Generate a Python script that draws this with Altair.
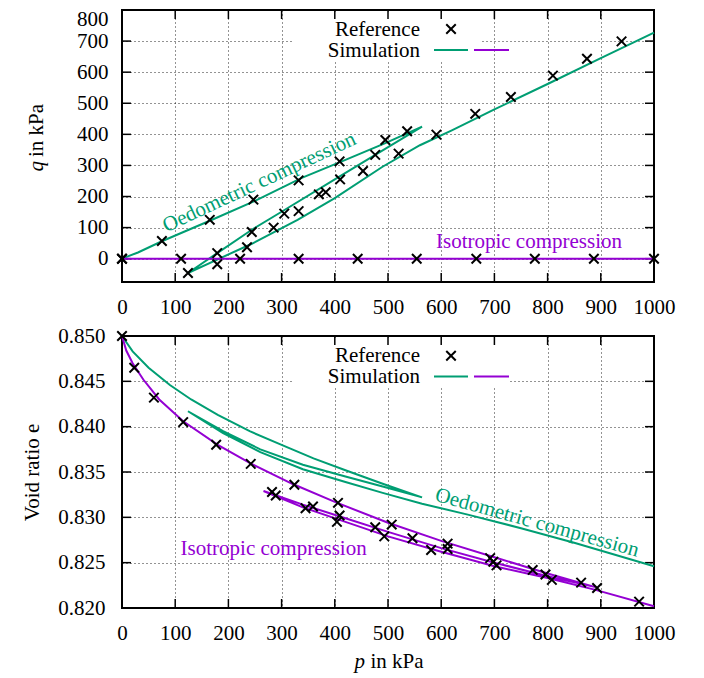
import altair as alt
import pandas as pd

GREEN = "#009e73"
PURPLE = "#9400d3"
FONT = "Liberation Serif"
FS = 21
W, H = 532, 272
TICK = 9
XSHAPE = "M-1,-1L1,1M-1,1L1,-1"

X_TICKS = [0, 100, 200, 300, 400, 500, 600, 700, 800, 900, 1000]
Q_TICKS = [0, 100, 200, 300, 400, 500, 600, 700, 800]
E_TICKS = [0.820, 0.825, 0.830, 0.835, 0.840, 0.845, 0.850]

# ---------------- top panel (p-q) ----------------
top_iso_ref_p = [0, 111, 222, 332, 443, 554, 666, 776, 887, 1000]
top_iso_ref_q = [0, 0, 0, 0, 0, 0, 0, 0, 0, 0]

top_oed_ref_p = [0, 75, 165, 247, 332, 409, 495, 536, 520, 453, 383, 332, 285, 235, 179, 124,
                 179, 244, 305, 370, 410, 476, 591, 664, 731, 810, 874, 939]
top_oed_ref_q = [0, 57, 125, 190, 252, 313, 382, 410, 338, 282, 214, 153, 100, 37, -18, -46,
                 18, 86, 145, 207, 255, 334, 399, 466, 520, 589, 643, 699]

top_oed_sim_p = [0, 30, 75, 165, 250, 338, 420, 495, 564, 476, 400, 300, 244, 179, 124,
                 180, 244, 330, 400, 489, 560, 620, 700, 800, 900, 1000]
top_oed_sim_q = [0, 20, 56, 122, 186, 260, 318, 372, 425, 334, 255, 151, 93, 18, -46,
                 -2, 48, 125, 195, 295, 365, 413, 480, 562, 645, 727]

top_iso_sim_p = [0, 890, 266, 1000]
top_iso_sim_q = [0, 0, 0, 0]

# ---------------- bottom panel (p-e) ----------------
bot_ref_p = [0, 23, 60, 115, 177, 242, 324, 282, 289, 345, 359, 406, 409, 404, 476, 493, 507,
             546, 581, 612, 612, 692, 698, 704, 772, 796, 808, 863, 893, 972]
bot_ref_e = [0.8500, 0.8465, 0.8432, 0.8405, 0.8380, 0.8359, 0.8336, 0.8328, 0.8324, 0.8310,
             0.8312, 0.8316, 0.8302, 0.8295, 0.8289, 0.8279, 0.8292, 0.8277, 0.8264, 0.8271,
             0.8265, 0.8255, 0.8251, 0.8247, 0.8242, 0.8237, 0.8231, 0.8228, 0.8222, 0.8207]

bot_oed_sim_p = [0, 20, 50, 90, 130, 180, 240, 300, 360, 420, 490, 564,
                 490, 420, 340, 260, 190, 124,
                 190, 260, 340, 420, 490, 564, 650, 750, 850, 1000]
bot_oed_sim_e = [0.8500, 0.8483, 0.8465, 0.8446, 0.8430, 0.8413, 0.8395, 0.8380, 0.8365, 0.8352, 0.8337, 0.8322,
                 0.8334, 0.8345, 0.8358, 0.8375, 0.8395, 0.8417,
                 0.8393, 0.8372, 0.8353, 0.8339, 0.8327, 0.8315, 0.8303, 0.8288, 0.8272, 0.8246]

bot_iso_sim_p = [0, 8, 20, 40, 70, 115, 180, 240, 320, 400, 500, 600, 700, 800, 890,
                 800, 700, 600, 500, 420, 340, 266,
                 340, 420, 500, 600, 700, 800, 890, 1000]
bot_iso_sim_e = [0.8500, 0.8484, 0.8470, 0.8452, 0.8430, 0.8406, 0.8380, 0.8360, 0.8337, 0.8317,
                 0.8294, 0.8274, 0.8256, 0.8238, 0.8223,
                 0.8235, 0.8250, 0.8266, 0.8284, 0.8299, 0.8314, 0.8329,
                 0.8311, 0.8295, 0.8279, 0.8262, 0.8246, 0.8233, 0.8220, 0.8202]

# annotations
top_ann_text = ["Oedometric compression", "Isotropic compression"]
top_ann_p = [258, 765]
top_ann_q = [245, 54]
top_ann_angle = [335, 0]
top_ann_color = [GREEN, PURPLE]

bot_ann_text = ["Oedometric compression", "Isotropic compression"]
bot_ann_p = [780, 285]
bot_ann_e = [0.8294, 0.82654]
bot_ann_angle = [15.5, 0]
bot_ann_color = [GREEN, PURPLE]

XS = alt.Scale(domain=[0, 1000], nice=False, zero=False)
QS = alt.Scale(domain=[-75, 800], nice=False, zero=False)
ES = alt.Scale(domain=[0.82, 0.85], nice=False, zero=False)

one = pd.DataFrame({"a": [0]})


def path_df(xs, ys, yname):
    return pd.DataFrame({"p": xs, yname: ys, "i": list(range(len(xs)))})


def panel(yname, yscale, xaxis, yaxis, yticks, refs, sims, anns, box_x2, legend_y, extra):
    X = lambda: alt.X("p:Q", scale=XS, axis=xaxis)
    Y = lambda: alt.Y(f"{yname}:Q", scale=yscale, axis=yaxis)
    layers = []
    xt = pd.DataFrame({"p": X_TICKS})
    yt = pd.DataFrame({yname: yticks})
    layers.append(alt.Chart(xt).mark_rule(color="black", strokeWidth=1.5).encode(
        x=X(), y=alt.value(H), y2=alt.value(H - TICK)))
    layers.append(alt.Chart(yt).mark_rule(color="black", strokeWidth=1.5).encode(
        y=Y(), x=alt.value(0), x2=alt.value(TICK)))
    layers.append(alt.Chart(one).mark_rect(color="white").encode(
        x=alt.value(172), x2=alt.value(box_x2), y=alt.value(2), y2=alt.value(52)))
    layers.append(alt.Chart(xt).mark_rule(color="black", strokeWidth=1.5).encode(
        x=X(), y=alt.value(0), y2=alt.value(TICK)))
    layers.append(alt.Chart(yt).mark_rule(color="black", strokeWidth=1.5).encode(
        y=Y(), x=alt.value(W), x2=alt.value(W - TICK)))
    for df, color in sims:
        layers.append(alt.Chart(df).mark_line(color=color, strokeWidth=2).encode(
            x=X(), y=Y(), order="i:Q"))
    for df in refs:
        layers.append(alt.Chart(df).mark_point(shape=XSHAPE, size=90, strokeWidth=2,
                                                color="black", filled=False, opacity=1).encode(
            x=X(), y=Y()))
    for t, p, v, ang, col in anns:
        d = pd.DataFrame({"p": [p], yname: [v], "t": [t]})
        layers.append(alt.Chart(d).mark_text(font=FONT, fontSize=FS, color=col, angle=ang,
                                              align="center", baseline="middle").encode(
            x=X(), y=Y(), text="t:N"))
    ry, sy, my, ly = legend_y
    layers.append(alt.Chart(one).mark_text(font=FONT, fontSize=FS, color="black", align="right",
                                            baseline="alphabetic").encode(
        x=alt.value(298), y=alt.value(ry), text=alt.value("Reference")))
    layers.append(alt.Chart(one).mark_text(font=FONT, fontSize=FS, color="black", align="right",
                                            baseline="alphabetic").encode(
        x=alt.value(298), y=alt.value(sy), text=alt.value("Simulation")))
    layers.append(alt.Chart(one).mark_point(shape=XSHAPE, size=90, strokeWidth=2, color="black",
                                             filled=False, opacity=1).encode(
        x=alt.value(329), y=alt.value(my)))
    layers.append(alt.Chart(one).mark_rule(color=GREEN, strokeWidth=2).encode(
        x=alt.value(312), x2=alt.value(346), y=alt.value(ly)))
    layers.append(alt.Chart(one).mark_rule(color=PURPLE, strokeWidth=2).encode(
        x=alt.value(352), x2=alt.value(387), y=alt.value(ly)))
    layers.extend(extra)
    return alt.layer(*layers).properties(width=W, height=H)


xaxis = alt.Axis(values=X_TICKS, title=None, format="d", labelFlush=False, labelOverlap=False,
                 labelPadding=14)
qaxis = alt.Axis(values=Q_TICKS, title=None, labelPadding=14,
                 labelOffset={"condition": {"test": "datum.value == 800", "value": 9}, "value": 0})
eaxis = alt.Axis(values=E_TICKS, format=".3f", title="Void ratio e", labelPadding=17,
                 titleX=-90, titleY=136, titleAngle=270, titleBaseline="middle",
                 titleAlign="center")

top_title = [
    alt.Chart(one).mark_text(font=FONT, fontSize=FS, fontStyle="italic", color="black", angle=270,
                             align="right", baseline="middle").encode(
        x=alt.value(-85), y=alt.value(151), text=alt.value("q")),
    alt.Chart(one).mark_text(font=FONT, fontSize=FS, color="black", angle=270,
                             align="left", baseline="middle").encode(
        x=alt.value(-85), y=alt.value(147), text=alt.value("in kPa")),
]
bot_title = [
    alt.Chart(one).mark_text(font=FONT, fontSize=FS, fontStyle="italic", color="black",
                             align="right", baseline="middle").encode(
        x=alt.value(243), y=alt.value(326), text=alt.value("p")),
    alt.Chart(one).mark_text(font=FONT, fontSize=FS, color="black",
                             align="left", baseline="middle").encode(
        x=alt.value(248.5), y=alt.value(326), text=alt.value("in kPa")),
]

top = panel(
    "q", QS, xaxis, qaxis, Q_TICKS,
    [path_df(top_iso_ref_p, top_iso_ref_q, "q"), path_df(top_oed_ref_p, top_oed_ref_q, "q")],
    [(path_df(top_oed_sim_p, top_oed_sim_q, "q"), GREEN), (path_df(top_iso_sim_p, top_iso_sim_q, "q"), PURPLE)],
    list(zip(top_ann_text, top_ann_p, top_ann_q, top_ann_angle, top_ann_color)),
    358, (25.7, 47.4, 19, 40), top_title)

bottom = panel(
    "e", ES, xaxis, eaxis, E_TICKS,
    [path_df(bot_ref_p, bot_ref_e, "e")],
    [(path_df(bot_oed_sim_p, bot_oed_sim_e, "e"), GREEN), (path_df(bot_iso_sim_p, bot_iso_sim_e, "e"), PURPLE)],
    list(zip(bot_ann_text, bot_ann_p, bot_ann_e, bot_ann_angle, bot_ann_color)),
    387, (25.7, 47.4, 19.7, 40.4), bot_title)

chart = alt.vconcat(top, bottom, spacing=6).properties(
    padding={"left": 12, "top": -1, "right": 5, "bottom": 5}
).configure_view(stroke="black", strokeWidth=2).configure_axis(
    labelFont=FONT, labelFontSize=FS, labelColor="black",
    titleFont=FONT, titleFontSize=FS, titleColor="black", titleFontWeight="normal",
    grid=True, gridColor="black", gridDash=[1, 3], gridOpacity=0.85, gridWidth=1,
    domain=False, ticks=False, tickSize=0
)

chart.save("out.html", embed_options={"renderer": "svg", "actions": False})
